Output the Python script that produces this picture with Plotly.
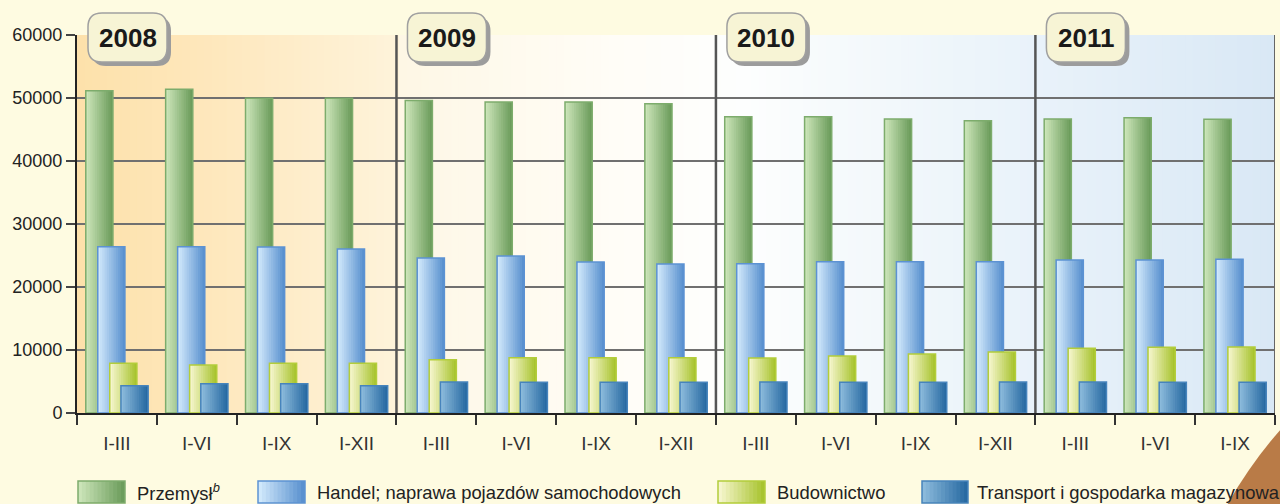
import plotly.graph_objects as go

# ---------------- data ----------------
periods = ["I-III", "I-VI", "I-IX", "I-XII",
           "I-III", "I-VI", "I-IX", "I-XII",
           "I-III", "I-VI", "I-IX", "I-XII",
           "I-III", "I-VI", "I-IX"]
years = ["2008", "2009", "2010", "2011"]
year_start = [0, 4, 8, 12]

przemysl = [51150, 51400, 49950, 49950, 49620, 49370, 49370, 49100,
            47030, 47030, 46670, 46400, 46670, 46870, 46620]
handel = [26400, 26400, 26350, 26030, 24600, 24920, 23970, 23650,
          23700, 24020, 24020, 24000, 24290, 24290, 24400]
budownictwo = [7890, 7620, 7890, 7890, 8460, 8780, 8780, 8780,
               8730, 9050, 9370, 9680, 10270, 10430, 10480]
transport = [4330, 4650, 4650, 4330, 4920, 4870, 4870, 4870,
             4920, 4870, 4870, 4920, 4920, 4870, 4870]

series_names = ["Przemysł<sup><i>b</i></sup>",
                "Handel; naprawa pojazdów samochodowych",
                "Budownictwo",
                "Transport i gospodarka magazynowa"]
y_ticks = [0, 10000, 20000, 30000, 40000, 50000, 60000]
y_ticktext = ["0", "10000", "20000", "30000", "40000", "50000", "60000"]

# ---------------- styles ----------------
FONT = "Liberation Sans, Arial, sans-serif"
series_style = [
    dict(left="#CBE4B8", right="#6C9D5C", line="#7DAC6C", off=-0.39),
    dict(left="#D0E8FB", right="#5A91CF", line="#5C92D3", off=-0.24),
    dict(left="#F5F5CC", right="#A8C42F", line="#B3CD3B", off=-0.09),
    dict(left="#8BBADB", right="#286AA2", line="#4784BC", off=0.05),
]
W = 0.34
K = 12


def hex2rgb(h):
    h = h.lstrip("#")
    return [int(h[i:i + 2], 16) for i in (0, 2, 4)]


def lerp(c1, c2, t):
    a, b = hex2rgb(c1), hex2rgb(c2)
    return "rgb(%d,%d,%d)" % tuple(round(a[i] + (b[i] - a[i]) * t) for i in range(3))


def lerp_stops(stops, t):
    for (t0, c0), (t1, c1) in zip(stops[:-1], stops[1:]):
        if t0 <= t <= t1:
            return lerp(c0, c1, (t - t0) / (t1 - t0) if t1 > t0 else 0)
    return lerp(stops[-1][1], stops[-1][1], 0)


xs = list(range(len(periods)))
all_series = [przemysl, handel, budownictwo, transport]

fig = go.Figure()
for vals, st in zip(all_series, series_style):
    for k in range(K):
        fig.add_trace(go.Bar(
            x=xs, y=vals, width=W - k * W / K, offset=st["off"] + k * W / K,
            marker=dict(color=lerp(st["left"], st["right"], k / (K - 1)), line=dict(width=0)),
            showlegend=False, hoverinfo="skip"))
    fig.add_trace(go.Bar(
        x=xs, y=vals, width=W, offset=st["off"],
        marker=dict(color="rgba(0,0,0,0)", line=dict(color=st["line"], width=1.5)),
        showlegend=False, hoverinfo="skip"))

shapes = []
# background gradient of the plot area
bg_stops = [(0.0, "#FDE1AA"), (0.12, "#FEE8BE"), (0.266, "#FEF3DA"), (0.27, "#FEF7E5"),
            (0.45, "#FFFDF7"), (0.56, "#FDFEFE"), (0.63, "#F6FAFC"), (0.74, "#EDF5FA"),
            (0.8, "#E9F2FA"), (1.0, "#D9E8F5")]
N = 160
for i in range(N):
    shapes.append(dict(type="rect", xref="paper", yref="paper",
                       x0=i / N, x1=1, y0=0, y1=1,
                       fillcolor=lerp_stops(bg_stops, (i + 0.5) / N),
                       line=dict(width=0), layer="below"))

# section separators and right border
for s in year_start[1:]:
    shapes.append(dict(type="line", xref="x", yref="paper", x0=s - 0.5, x1=s - 0.5,
                       y0=0, y1=1, line=dict(color="#555555", width=2.5)))
shapes.append(dict(type="line", xref="x", yref="paper", x0=14.5, x1=14.5,
                   y0=0, y1=1, line=dict(color="#666666", width=2)))


def rr(x0, y0, x1, y1, r):
    return (f"M {x0 + r},{y0} L {x1 - r},{y0} Q {x1},{y0} {x1},{y0 + r} "
            f"L {x1},{y1 - r} Q {x1},{y1} {x1 - r},{y1} L {x0 + r},{y1} "
            f"Q {x0},{y1} {x0},{y1 - r} L {x0},{y0 + r} Q {x0},{y0} {x0 + r},{y0} Z")


annotations = []
nx = len(periods)
for yr, s in zip(years, year_start):
    ax = s / nx
    shapes.append(dict(type="path", xref="paper", yref="paper", xsizemode="pixel",
                       ysizemode="pixel", xanchor=ax, yanchor=1,
                       path=rr(15, -31, 94, 18, 14), fillcolor="#9C9C9C",
                       line=dict(width=0)))
    shapes.append(dict(type="path", xref="paper", yref="paper", xsizemode="pixel",
                       ysizemode="pixel", xanchor=ax, yanchor=1,
                       path=rr(11, -27, 90, 22, 14), fillcolor="#F7F4D5",
                       line=dict(color="#A0A0A0", width=1.5)))
    annotations.append(dict(xref="paper", yref="paper", x=ax, y=1, xshift=50.5, yshift=-2.5,
                            xanchor="center", yanchor="middle", showarrow=False,
                            text=f"<b>{yr}</b>",
                            font=dict(family=FONT, size=26, color="#1A1A1A")))

# brown corner decoration
shapes.append(dict(type="path", xref="paper", yref="paper", xsizemode="pixel",
                   ysizemode="pixel", xanchor=1, yanchor=0,
                   path="M -48,-92 Q -24,-50 6,-16 L 6,-92 Z",
                   fillcolor="#B97B47", line=dict(width=0), layer="below"))

# custom legend
leg_sw = [(1, 48), (181, 228), (641, 688), (845, 891)]
leg_tx = [58, 238, 698, 898]
for (sx0, sx1), tx, st, name in zip(leg_sw, leg_tx, series_style, series_names):
    M = 12
    for k in range(M):
        shapes.append(dict(type="rect", xref="paper", yref="paper", xsizemode="pixel",
                           ysizemode="pixel", xanchor=0, yanchor=0,
                           x0=sx0 + (sx1 - sx0) * k / M, x1=sx1,
                           y0=-90, y1=-68,
                           fillcolor=lerp(st["left"], st["right"], k / (M - 1)),
                           line=dict(width=0)))
    shapes.append(dict(type="rect", xref="paper", yref="paper", xsizemode="pixel",
                       ysizemode="pixel", xanchor=0, yanchor=0,
                       x0=sx0, x1=sx1, y0=-90, y1=-68, fillcolor="rgba(0,0,0,0)",
                       line=dict(color=st["line"], width=1.5)))
    annotations.append(dict(xref="paper", yref="paper", x=0, y=0, xshift=tx, yshift=-79,
                            xanchor="left", yanchor="middle", showarrow=False, text=name,
                            font=dict(family=FONT, size=18.4, color="#222222")))

fig.update_layout(
    width=1280, height=504,
    margin=dict(l=77, r=5, t=35, b=91),
    paper_bgcolor="#FEFBE1", plot_bgcolor="rgba(0,0,0,0)",
    barmode="overlay", showlegend=False,
    shapes=shapes, annotations=annotations,
    font=dict(family=FONT, color="#222222"),
    xaxis=dict(range=[-0.5, 14.5], tickmode="array", tickvals=xs, ticktext=periods,
               ticks="", showgrid=False, zeroline=False,
               showline=True, linecolor="#222222", linewidth=2,
               tickfont=dict(family=FONT, size=19, color="#333333"),
               ticklabelstandoff=12,
               minor=dict(tickmode="array", tickvals=[i - 0.5 for i in range(16)],
                          ticks="outside", ticklen=10, tickwidth=2, tickcolor="#333333",
                          showgrid=False)),
    yaxis=dict(range=[0, 60000], tickmode="array", tickvals=y_ticks, ticktext=y_ticktext,
               ticks="outside", ticklen=9, tickwidth=2, tickcolor="#444444",
               showgrid=True, gridcolor="#707070", gridwidth=1.5, zeroline=False,
               showline=True, linecolor="#222222", linewidth=2,
               tickfont=dict(family=FONT, size=18, color="#222222")),
)

fig.write_html("out.html", config={"displayModeBar": False},
               post_script="document.body.style.margin='0';document.body.style.overflow='hidden';")
